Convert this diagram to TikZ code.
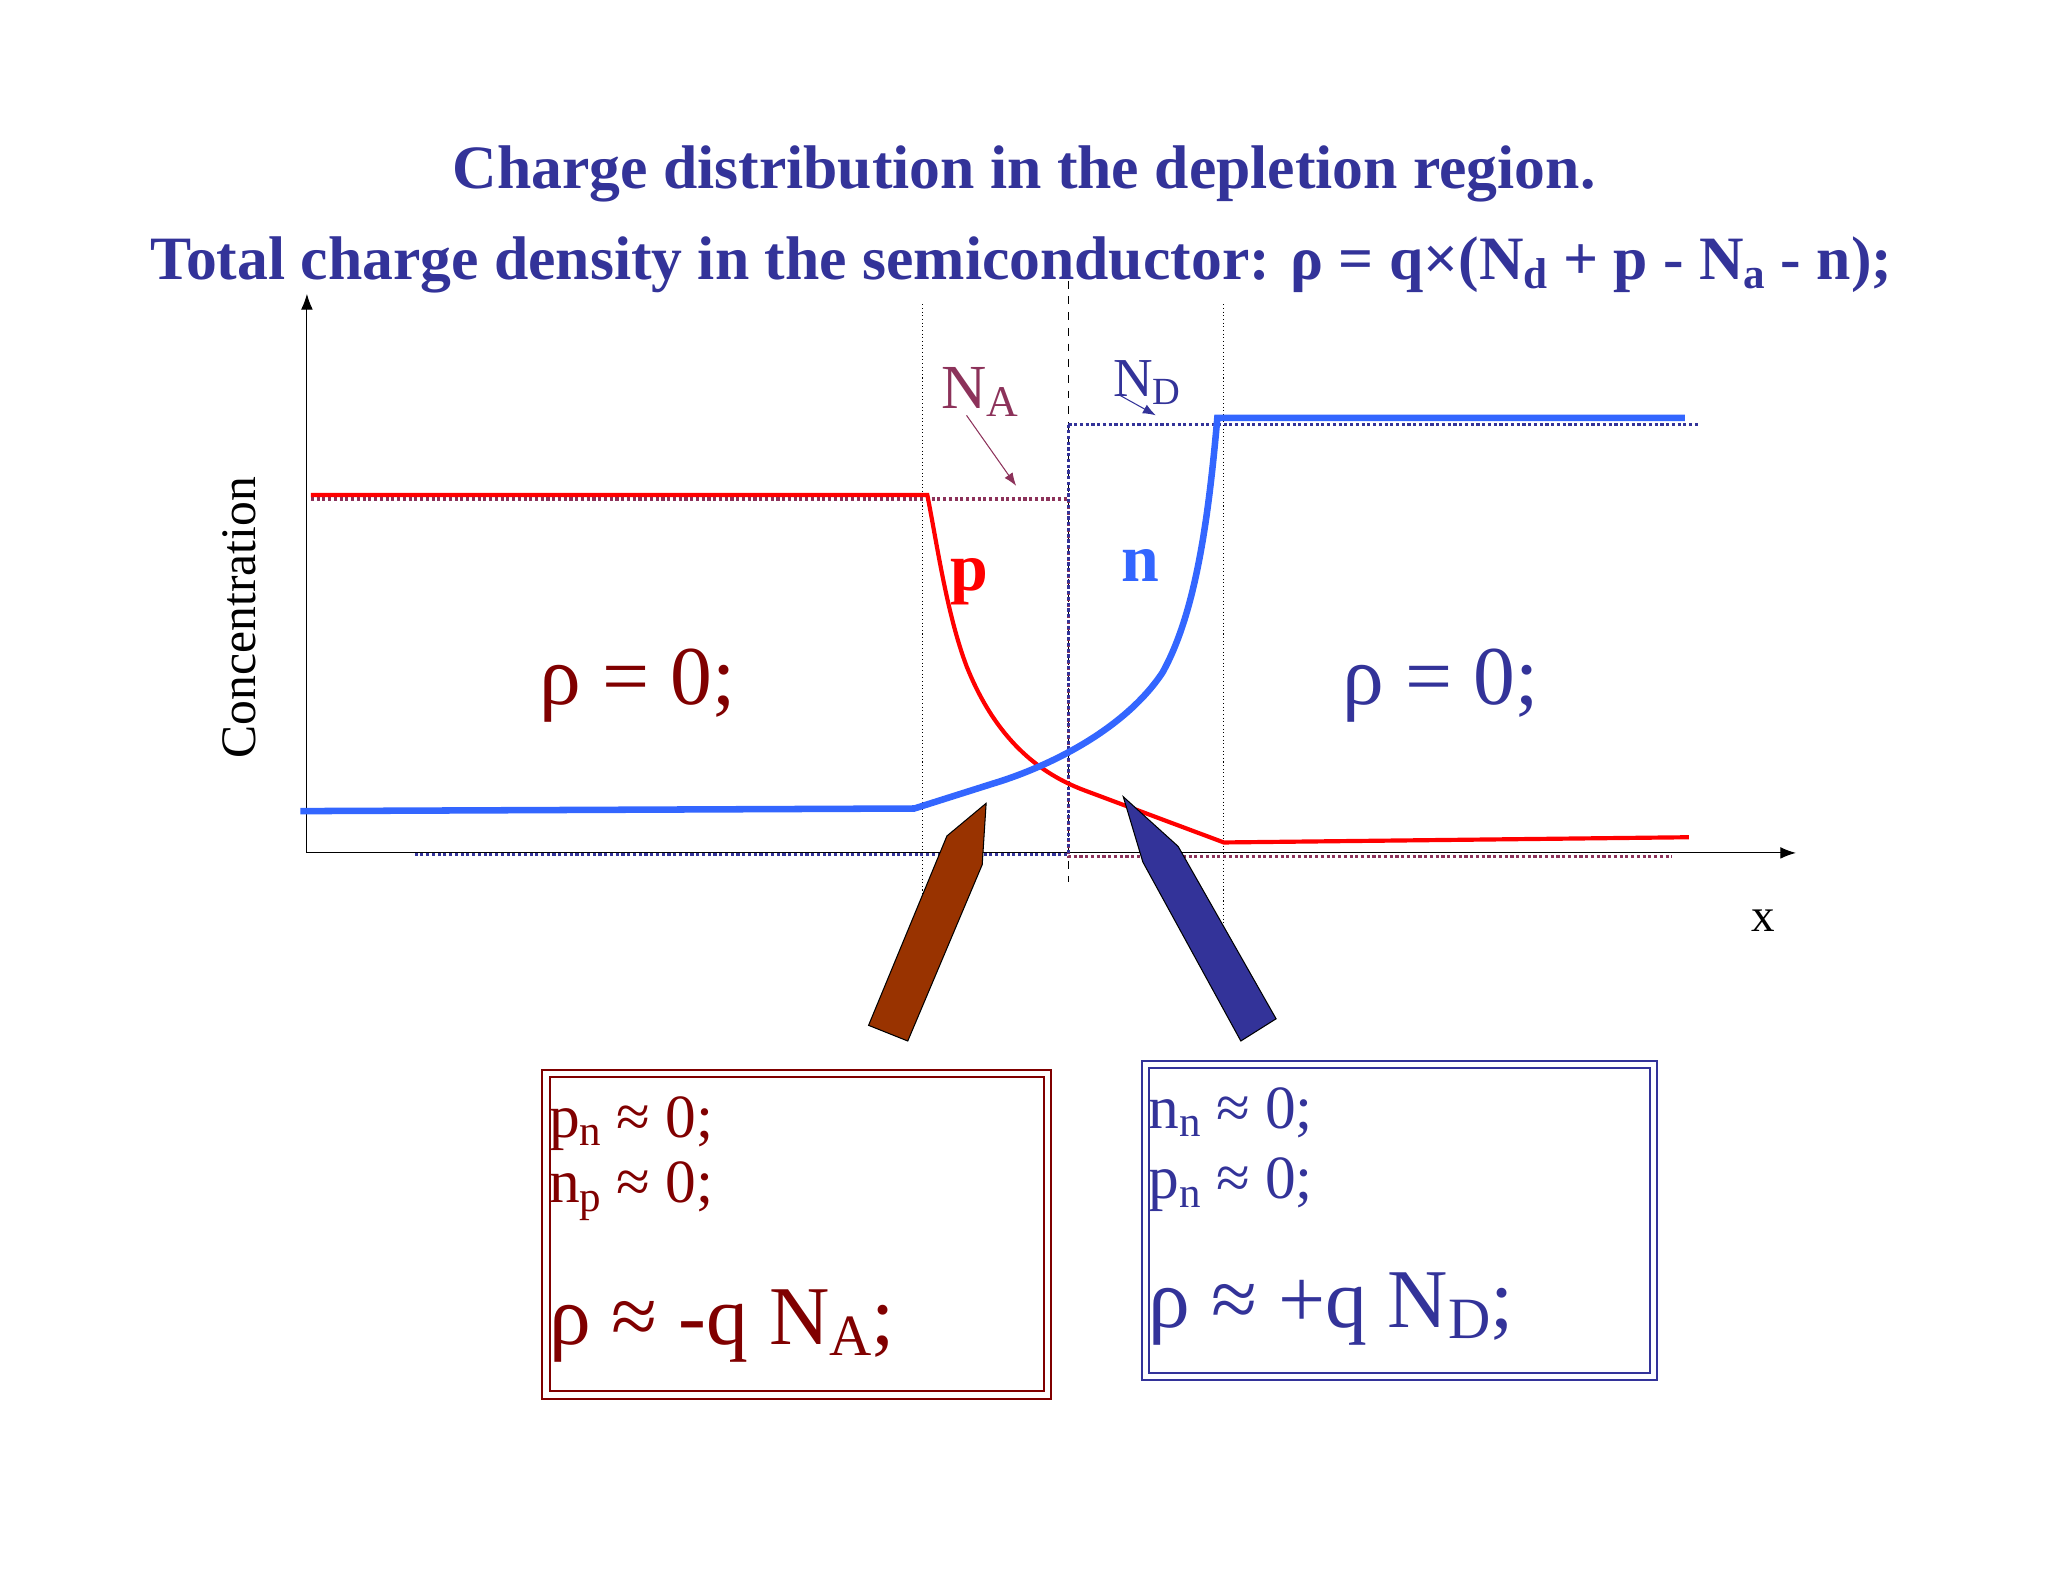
\documentclass[tikz,border=0pt]{standalone}
\usepackage{fontspec}
\setmainfont{Liberation Serif}
\usetikzlibrary{arrows.meta}
\definecolor{navy}{RGB}{51,51,153}
\definecolor{dred}{RGB}{128,0,0}
\definecolor{plum}{RGB}{140,50,90}
\definecolor{lblue}{RGB}{51,102,255}
\definecolor{brn}{RGB}{153,51,0}
\newcommand{\sbx}[1]{\raisebox{-0.3ex}{\scalebox{0.7}{#1}}}
\tikzset{dotl/.style={densely dotted,line width=1.2pt},
 fs/.style={font=\fontsize{#1}{#1}\selectfont},
 fb/.style={font=\fontsize{#1}{#1}\selectfont\bfseries}}
\begin{document}
\begin{tikzpicture}[x=0.5pt,y=-0.5pt]
\useasboundingbox (0,0) rectangle (1568,1211);
\node[fb=23.6,navy] (t1) at (784,133) {Charge distribution in the depletion region.};
\node[fb=23.6,navy] (t2) at (782,203) {Total charge density in the semiconductor: ρ = q×(N\sbx{d} + p - N\sbx{a} - n);};
% axes
\coordinate (o) at (235,653);
\coordinate (ytop) at (235,225);
\coordinate (xend) at (1375,653);
\draw[-{Latex[length=6pt]}] (o) -- (ytop);
\draw[-{Latex[length=6pt]}] (o) -- (xend);
\node[fs=18] (xl) at (1350,705) {x};
\node[fs=19,rotate=90] (cl) at (183,473) {Concentration};
% vertical guides
\draw[densely dotted,thin] (706,233) -- (706,690);
\draw[dashed,thin] (818,215) -- (818,675);
\draw[densely dotted,thin] (937,233) -- (937,710);
% dotted levels
\draw[dotl,plum] (238,382) -- (818,382) -- (818,656) -- (1280,656);
\draw[dotl,navy] (818,325) -- (1300,325);
\draw[dotl,navy] (818,325) -- (818,654) -- (318,654);
% curves
\draw[red,line width=1.6pt] (238,379) -- (710,379) .. controls (718,420) and (725,470) .. (740,510) .. controls (760,560) and (790,590) .. (830,605) -- (937,645) -- (1293,641);
\draw[lblue,line width=2.5pt] (230,621) -- (700,619) -- (760,600) .. controls (800,588) and (860,560) .. (890,515) .. controls (915,470) and (925,400) .. (932,320) -- (1290,320);
% labels
\node[fs=24,plum] (na) at (750,300) {N\sbx{A}};
\draw[plum,-{Latex[length=5pt]}] (740,318) -- (778,372);
\node[fs=21,navy] (nd) at (878,293) {N\sbx{D}};
\draw[navy,-{Latex[length=5pt]}] (858,303) -- (885,318);
\node[fb=26,red] (pl) at (742,445) {p};
\node[fb=26,lblue] (nl) at (873,433) {n};
\node[fs=32,dred] (r1) at (488,525) {ρ = 0;};
\node[fs=32,navy] (r2) at (1103,525) {ρ = 0;};
% pencils
\draw[fill=brn] (755,615) -- (725,640) -- (665,785) -- (695,797) -- (752,662) -- cycle;
\draw[fill=navy] (860,610) -- (902,648) -- (977,780) -- (950,797) -- (875,660) -- cycle;
% boxes
\draw[dred,double=white,double distance=2pt,line width=0.8pt] (418,822) rectangle (802,1068);
\draw[navy,double=white,double distance=2pt,line width=0.8pt] (877,815) rectangle (1266,1054);
\node[fs=23.5,dred,anchor=west,inner xsep=1pt] (a1) at (418,860) {p\sbx{n} ≈ 0;};
\node[fs=23.5,dred,anchor=west,inner xsep=1pt] (a2) at (418,912) {n\sbx{p} ≈ 0;};
\node[fs=32,dred,anchor=west,inner xsep=1pt] (a3) at (418,1015) {ρ ≈ -q N\sbx{A};};
\node[fs=23.5,navy,anchor=west,inner xsep=1pt] (b1) at (877,852) {n\sbx{n} ≈ 0;};
\node[fs=23.5,navy,anchor=west,inner xsep=1pt] (b2) at (877,907) {p\sbx{n} ≈ 0;};
\node[fs=32,navy,anchor=west,inner xsep=1pt] (b3) at (877,1002) {ρ ≈ +q N\sbx{D};};
\end{tikzpicture}
\end{document}
